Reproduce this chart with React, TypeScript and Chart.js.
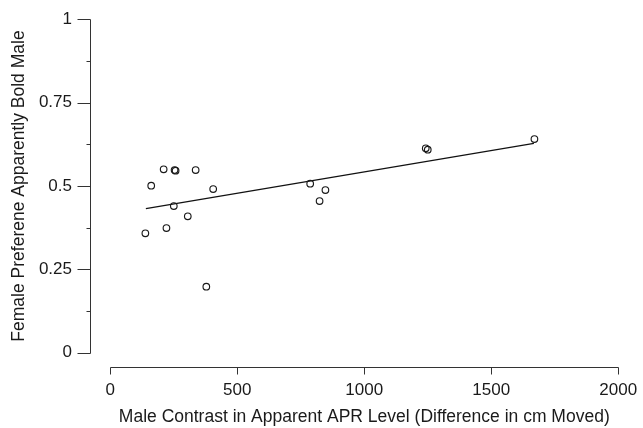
import React, { useEffect, useRef } from "react";
import { Chart, registerables } from "chart.js";

Chart.register(...registerables);

// Data
const xData = [138, 161, 210, 253, 257, 221, 250, 305, 336, 378, 405, 787, 824, 847, 1242, 1250, 1670];
const yData = [0.358, 0.501, 0.550, 0.548, 0.546, 0.374, 0.440, 0.409, 0.548, 0.198, 0.491, 0.507, 0.455, 0.488, 0.613, 0.609, 0.641];

// Fitted line end points
const fitX = [140, 1668];
const fitY = [0.432, 0.628];

const xTicks = [0, 500, 1000, 1500, 2000];
const yTicks = [0, 0.25, 0.5, 0.75, 1];
const yMinorTicks = [0.125, 0.375, 0.625, 0.875];

const xTitle = "Male Contrast in Apparent APR Level (Difference in cm Moved)";
const yTitle = "Female Preferene Apparently Bold Male";

const FONT = { family: "'Liberation Sans', Arial, Helvetica, sans-serif", size: 17 };
const TITLE_FONT = { family: "'Liberation Sans', Arial, Helvetica, sans-serif", size: 17.5 };
const TEXT_COLOR = "#1a1a1a";
const AXIS_COLOR = "#333333";

const axesPlugin = {
  id: "rAxes",
  afterDraw(chart: any) {
    const { ctx, chartArea, scales } = chart;
    const xs = scales.x;
    const ys = scales.y;
    ctx.save();
    ctx.strokeStyle = AXIS_COLOR;
    ctx.lineWidth = 1;
    // y axis
    const ax = Math.round(chartArea.left) + 0.5;
    const y0 = Math.round(ys.getPixelForValue(yTicks[0])) + 0.5;
    const y1 = Math.round(ys.getPixelForValue(yTicks[yTicks.length - 1])) + 0.5;
    ctx.beginPath();
    ctx.moveTo(ax, y0);
    ctx.lineTo(ax, y1);
    yTicks.forEach((v) => {
      const p = Math.round(ys.getPixelForValue(v)) + 0.5;
      ctx.moveTo(ax, p);
      ctx.lineTo(ax - 13, p);
    });
    yMinorTicks.forEach((v) => {
      const p = Math.round(ys.getPixelForValue(v)) + 0.5;
      ctx.moveTo(ax, p);
      ctx.lineTo(ax - 4, p);
    });
    ctx.stroke();
    // x axis
    const ay = Math.round(chartArea.bottom) + 1.5;
    const x0 = Math.round(xs.getPixelForValue(xTicks[0])) + 0.5;
    const x1 = Math.round(xs.getPixelForValue(xTicks[xTicks.length - 1])) + 0.5;
    ctx.beginPath();
    ctx.moveTo(x0, ay);
    ctx.lineTo(x1, ay);
    xTicks.forEach((v) => {
      const p = Math.round(xs.getPixelForValue(v)) + 0.5;
      ctx.moveTo(p, ay);
      ctx.lineTo(p, ay + 7);
    });
    ctx.stroke();
    ctx.restore();
  },
};

export default function App() {
  const canvasRef = useRef<HTMLCanvasElement | null>(null);

  useEffect(() => {
    const canvas = canvasRef.current;
    if (!canvas) return;
    const chart = new Chart(canvas, {
      type: "scatter",
      data: {
        datasets: [
          {
            type: "scatter",
            data: xData.map((x, i) => ({ x, y: yData[i] })),
            pointRadius: 3.3,
            pointHoverRadius: 3.3,
            pointBorderWidth: 1.15,
            pointBackgroundColor: "rgba(0,0,0,0)",
            pointBorderColor: "#1a1a1a",
            borderColor: "#1a1a1a",
            backgroundColor: "rgba(0,0,0,0)",
          },
          {
            type: "line",
            data: fitX.map((x, i) => ({ x, y: fitY[i] })),
            borderColor: "#111111",
            borderWidth: 1.1,
            pointRadius: 0,
            fill: false,
            tension: 0,
          } as any,
        ],
      },
      options: {
        animation: false,
        responsive: false,
        maintainAspectRatio: false,
        layout: { padding: { top: 6, right: 0.5, left: 0, bottom: 0 } },
        plugins: {
          legend: { display: false },
          tooltip: { enabled: false },
        },
        scales: {
          x: {
            type: "linear",
            min: -80,
            max: 2080,
            grid: { display: false, drawTicks: false },
            border: { display: false },
            afterBuildTicks: (s: any) => {
              s.ticks = xTicks.map((v) => ({ value: v }));
            },
            afterFit: (s: any) => {
              s.height = 62;
              s.paddingLeft = 0;
              s.paddingRight = 0;
            },
            ticks: {
              padding: 14,
              font: FONT,
              color: TEXT_COLOR,
              maxRotation: 0,
              autoSkip: false,
              callback: (v: any) => String(v),
            },
            title: {
              display: true,
              text: xTitle,
              font: TITLE_FONT,
              color: TEXT_COLOR,
              padding: { top: 0, bottom: 0 },
            },
          },
          y: {
            type: "linear",
            min: -0.04,
            max: 1.04,
            grid: { display: false, drawTicks: false },
            border: { display: false },
            afterBuildTicks: (s: any) => {
              s.ticks = yTicks.map((v) => ({ value: v }));
            },
            afterFit: (s: any) => {
              s.width = 90;
              s.paddingTop = 0;
              s.paddingBottom = 0;
            },
            ticks: {
              padding: 18,
              font: FONT,
              color: TEXT_COLOR,
              autoSkip: false,
              callback: (v: any) => String(v),
            },
            title: {
              display: true,
              text: yTitle,
              font: TITLE_FONT,
              color: TEXT_COLOR,
              padding: { top: 8.5, bottom: 0 },
            },
          },
        },
      },
      plugins: [axesPlugin],
    });
    return () => chart.destroy();
  }, []);

  return (
    <div style={{ position: "absolute", left: 0, top: 0, width: 643, height: 428, background: "#fff" }}>
      <canvas ref={canvasRef} width={643} height={428} style={{ display: "block" }} />
    </div>
  );
}
